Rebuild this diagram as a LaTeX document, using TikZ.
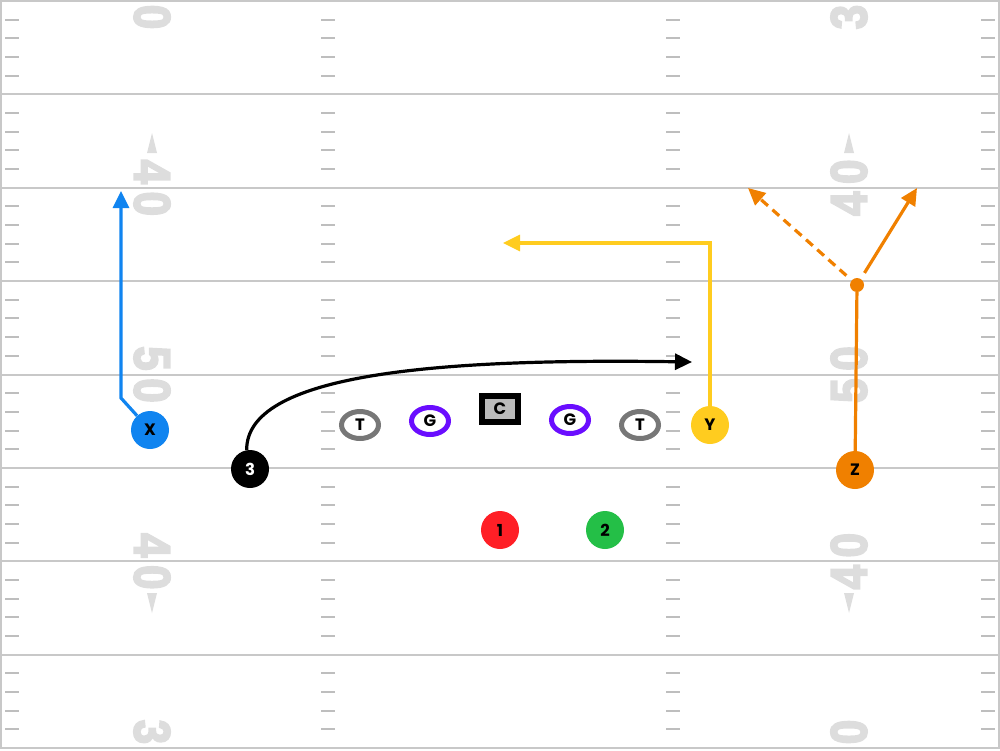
\documentclass[tikz,border=0pt]{standalone}
\usepackage{fontspec}
\newfontface\numfont[FakeBold=4]{Liberation Sans Bold}
\newfontfamily\playerfont{Poppins}
\usetikzlibrary{positioning,arrows.meta,shapes.geometric}
\definecolor{yardgray}{HTML}{C8C8C8}
\definecolor{hashgray}{HTML}{BEBEBE}
\definecolor{numgray}{HTML}{DDDDDD}
\definecolor{xblue}{HTML}{1084F0}
\definecolor{tgray}{HTML}{777777}
\definecolor{gpurple}{HTML}{6A0DFF}
\definecolor{cgray}{HTML}{BBBBBB}
\definecolor{yyellow}{HTML}{FFCC1F}
\definecolor{zorange}{HTML}{F08000}
\definecolor{onered}{HTML}{FF1F26}
\definecolor{twogreen}{HTML}{24BF47}
\tikzset{yardline/.style={draw=yardgray, line width=2pt}}
\tikzset{hashmark/.style={draw=hashgray, line width=2pt}}
\tikzset{yardnum/.style={text=numgray, inner sep=0pt, xscale=0.86, font=\numfont\fontsize{51}{51}\selectfont}}
\tikzset{player/.style={circle, minimum size=38pt, inner sep=0pt, font=\playerfont\bfseries\fontsize{16.5}{16.5}\selectfont}}
\tikzset{lineman/.style={ellipse, draw, line width=5pt, fill=white, minimum width=37pt, minimum height=27pt, inner sep=0pt, font=\playerfont\bfseries\fontsize{16.5}{16.5}\selectfont}}
\tikzset{snapbox/.style={rectangle, draw=black, line width=6pt, fill=cgray, minimum width=36pt, minimum height=26pt, inner sep=0pt, font=\playerfont\bfseries\fontsize{16.5}{16.5}\selectfont}}
\tikzset{route/.style={line width=3.2pt, -{Triangle[length=17pt, width=16pt]}}}
\tikzset{zdot/.style={circle, fill=zorange, minimum size=14pt, inner sep=0pt}}
\newcommand\fieldnum[3]{
		\node[rotate=-90, yardnum] (numL-#1) at (152,#2) {#3};
		\node[rotate=90, yardnum] (numR-#1) at (849,#2) {#3};
		}
\newcommand\numarrow[2]{
		\fill[numgray] (152,#1) -- (147,#2) -- (157,#2) -- cycle;
		\fill[numgray] (849,#1) -- (844,#2) -- (854,#2) -- cycle;
		}

\begin{document}
\begin{tikzpicture}[x=1pt, y=-1pt]
			\useasboundingbox (0,0) rectangle (1000,750);
			\clip (0,0) rectangle (1000,750);
			\foreach \k in {0,...,8}
				\draw[yardline] (0,{1+93.375*\k}) -- (1000,{1+93.375*\k});
			\draw[yardline] (1,1) -- (1,748);
			\draw[yardline] (999,1) -- (999,748);
			\foreach \k in {0,...,7}
				\foreach \j in {1,...,4}
					\foreach \hx in {5,321,666,981}
						\draw[hashmark] (\hx,{1+93.375*\k+18.675*\j}) -- ++(14,0);
			\fieldnum{a}{1}{3\kern9pt0}
			\fieldnum{b}{187.75}{4\kern9pt0}
			\fieldnum{c}{374.5}{5\kern9pt0}
			\fieldnum{d}{561.25}{4\kern9pt0}
			\fieldnum{e}{748}{3\kern9pt0}
			\numarrow{133}{153}
			\numarrow{613}{593}

			\node[player, fill=xblue] (X) at (150,430) {X};
			\node[player, fill=black, text=white] (three) at (250,469) {3};
			\node[lineman, draw=tgray] (LT) at (360,425) {T};
			\node[lineman, draw=gpurple] (LG) at (430,421) {G};
			\node[snapbox] (C) at (500,409) {C};
			\node[lineman, draw=gpurple] (RG) at (570,420) {G};
			\node[lineman, draw=tgray] (RT) at (640,425) {T};
			\node[player, fill=yyellow] (Y) at (710,425) {Y};
			\node[player, fill=zorange] (Z) at (855,470) {Z};
			\node[player, fill=onered] (one) at (500,530) {1};
			\node[player, fill=twogreen] (two) at (605,530) {2};

			\coordinate (xcut) at (121,398);
			\coordinate (xend) at (121,191);
			\draw[route, xblue] (X) -- (xcut) -- (xend);
			\coordinate (cend) at (692,362);
			\draw[route, black] (three.100) .. controls (246,375) and (430,358) .. (cend);
			\coordinate (yturn) at (710,243);
			\coordinate (yend) at (503,243);
			\draw[route, yyellow] (Y) -- (yturn) -- (yend);
			\node[zdot] (zcut) at (857,285) {};
			\coordinate (zout) at (917,188);
			\coordinate (zin) at (748,188);
			\draw[zorange, line width=3.2pt] (Z) -- (zcut);
			\draw[route, zorange, shorten <=7pt] (zcut) -- (zout);
			\draw[route, zorange, shorten <=7pt, dash pattern=on 9pt off 6pt] (zcut) -- (zin);
		\end{tikzpicture}
\end{document}
